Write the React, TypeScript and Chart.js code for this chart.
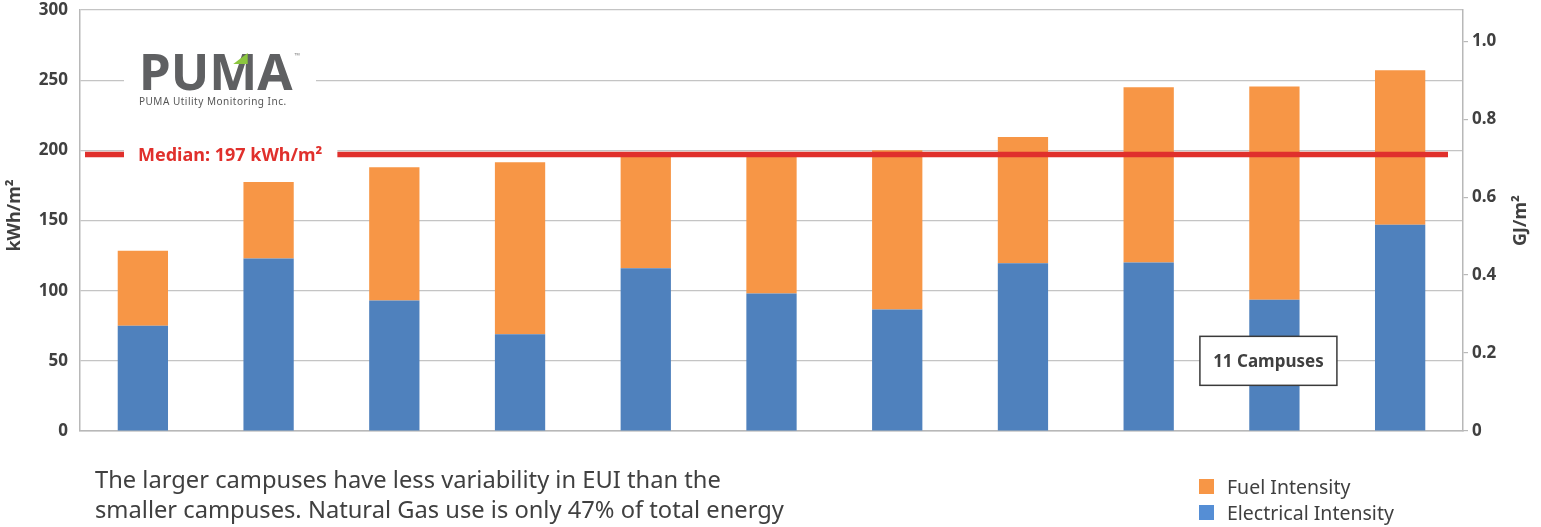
import { useEffect, useRef } from 'react';
import { Chart, registerables } from 'chart.js';

Chart.register(...registerables);

// ---------- data ----------
const CAMPUSES = ['Campus 1', 'Campus 2', 'Campus 3', 'Campus 4', 'Campus 5', 'Campus 6', 'Campus 7', 'Campus 8', 'Campus 9', 'Campus 10', 'Campus 11'];
const ELECTRICAL = [75, 123, 93, 69, 116, 98, 86.5, 119.5, 120, 93.5, 147];
const FUEL = [53.5, 54.5, 95, 122.5, 80, 98, 113.5, 90, 125, 152, 110];
const MEDIAN = 197;
const Y_MIN = 0;
const Y_MAX = 300;
const Y_STEP = 50;
const GJ_PER_KWH = 0.0036;
const GJ_STEP = 0.2;
const SERIES_NAMES = ['Electrical Intensity', 'Fuel Intensity'];
const LEGEND_ORDER = ['Fuel Intensity', 'Electrical Intensity'];
const LEFT_TITLE = 'kWh/m²';
const RIGHT_TITLE = 'GJ/m²';
const CALLOUT = '11 Campuses';
const CALLOUT_INDEX = 9;
const CALLOUT_VALUE = 50;
const NOTE_LINES = [
  'The larger campuses have less variability in EUI than the',
  'smaller campuses. Natural Gas use is only 47% of total energy',
];
const LOGO_NAME = ['PU', 'M', 'A'];
const LOGO_SUB = 'PUMA Utility Monitoring Inc.';

// ---------- styles ----------
const FONT = "'Noto Sans', 'Open Sans', sans-serif";
const BLUE = '#4f81bd';
const ORANGE = '#f79646';
const LEGEND_BLUE = '#558ed5';
const RED = '#e0302c';
const TEXT = '#404040';
const GRID = '#c4c4c4';
const AXIS = '#b8b8b8';
const LOGO_GRAY = '#5f6062';
const LOGO_GREEN = '#8cc63f';

const overlayPlugin = {
  id: 'overlayPlugin',
  afterDatasetsDraw(chart: any) {
    const { ctx, chartArea, scales } = chart;
    const ys = scales.y;
    const xs = scales.x;
    ctx.save();

    // median line
    const my = ys.getPixelForValue(MEDIAN);
    ctx.strokeStyle = RED;
    ctx.lineWidth = 5.5;
    ctx.beginPath();
    ctx.moveTo(chartArea.left + 5, my);
    ctx.lineTo(chartArea.right - 15, my);
    ctx.stroke();

    ctx.font = `bold 18px ${FONT}`;
    const label = `Median: ${MEDIAN} kWh/m²`;
    const tw = ctx.measureText(label).width;
    const lx = chartArea.left + 58;
    ctx.fillStyle = '#ffffff';
    ctx.fillRect(lx - 14, my - 12, tw + 29, 24);
    ctx.fillStyle = RED;
    ctx.textBaseline = 'middle';
    ctx.textAlign = 'left';
    ctx.fillText(label, lx, my + 1);

    // callout box
    const cx = xs.getPixelForValue(CALLOUT_INDEX) - 6;
    const cy = ys.getPixelForValue(CALLOUT_VALUE);
    const bw = 137;
    const bh = 49;
    ctx.fillStyle = '#ffffff';
    ctx.fillRect(cx - bw / 2, cy - bh / 2, bw, bh);
    ctx.strokeStyle = '#3a3a3a';
    ctx.lineWidth = 1.5;
    ctx.strokeRect(cx - bw / 2, cy - bh / 2, bw, bh);
    ctx.fillStyle = TEXT;
    ctx.font = `bold 17px ${FONT}`;
    ctx.textAlign = 'center';
    ctx.fillText(CALLOUT, cx, cy + 1);

    // logo
    const L = chartArea.left;
    ctx.fillStyle = '#ffffff';
    ctx.fillRect(L + 44, 45, 192, 68);
    ctx.textAlign = 'left';
    ctx.textBaseline = 'alphabetic';
    ctx.font = `bold 51px ${FONT}`;
    const px = L + 59;
    const base = 90;
    const capTop = base - 37;
    ctx.fillStyle = LOGO_GRAY;
    const w0 = ctx.measureText(LOGO_NAME[0]).width;
    const w1 = ctx.measureText(LOGO_NAME[1]).width;
    ctx.fillText(LOGO_NAME[0], px, base);
    ctx.fillText(LOGO_NAME[1], px + w0, base);
    ctx.fillText(LOGO_NAME[2], px + w0 + w1, base);
    const mx = px + w0;
    ctx.fillStyle = LOGO_GREEN;
    ctx.beginPath();
    ctx.moveTo(mx + w1 * 0.8, capTop);
    ctx.lineTo(mx + w1 * 0.8, capTop + 11);
    ctx.lineTo(mx + w1 * 0.5, capTop + 11);
    ctx.closePath();
    ctx.fill();
    const wAll = w0 + w1 + ctx.measureText(LOGO_NAME[2]).width;
    ctx.fillStyle = '#8a8a8a';
    ctx.font = `7px ${FONT}`;
    ctx.fillText('™', px + wAll + 2, capTop + 5);
    ctx.fillStyle = '#555555';
    ctx.font = `10px ${FONT}`;
    (ctx as any).letterSpacing = '0.5px';
    ctx.fillText(LOGO_SUB, px, 105);
    (ctx as any).letterSpacing = '0px';

    // axis titles
    ctx.fillStyle = TEXT;
    ctx.font = `bold 18px ${FONT}`;
    ctx.textAlign = 'center';
    ctx.textBaseline = 'middle';
    const midY = (chartArea.top + chartArea.bottom) / 2;
    ctx.save();
    ctx.translate(15, midY - 5);
    ctx.rotate(-Math.PI / 2);
    ctx.fillText(LEFT_TITLE, 0, 0);
    ctx.restore();
    ctx.save();
    ctx.translate(chartArea.right + 58, midY);
    ctx.rotate(-Math.PI / 2);
    ctx.fillText(RIGHT_TITLE, 0, 0);
    ctx.restore();

    ctx.restore();
  },
};

export default function App() {
  const ref = useRef<HTMLCanvasElement>(null);

  useEffect(() => {
    if (!ref.current) return;
    const tickFont = { family: FONT, size: 17, weight: 'bold' as const };
    const chart = new Chart(ref.current, {
      type: 'bar',
      data: {
        labels: CAMPUSES,
        datasets: [
          { label: SERIES_NAMES[0], data: ELECTRICAL, backgroundColor: BLUE, borderWidth: 0, barPercentage: 0.4, categoryPercentage: 1 },
          { label: SERIES_NAMES[1], data: FUEL, backgroundColor: ORANGE, borderWidth: 0, barPercentage: 0.4, categoryPercentage: 1 },
        ],
      },
      options: {
        animation: false,
        responsive: true,
        maintainAspectRatio: false,
        layout: { padding: { top: 0, left: 0, right: 0, bottom: 0 } },
        plugins: {
          legend: { display: false },
          tooltip: { enabled: false },
        },
        scales: {
          x: {
            stacked: true,
            grid: { display: false },
            border: { display: true, color: AXIS, width: 1.5 },
            ticks: { display: false },
            afterFit: (s: any) => { s.height = 96; },
          },
          y: {
            stacked: true,
            position: 'left',
            min: Y_MIN,
            max: Y_MAX,
            ticks: { stepSize: Y_STEP, padding: 12, color: TEXT, font: tickFont },
            grid: { color: GRID, lineWidth: 1.2, drawTicks: false },
            border: { color: AXIS, width: 1.5 },
            afterFit: (s: any) => { s.width = 80; s.paddingTop = 10; s.paddingBottom = 0; },
          },
          y1: {
            position: 'right',
            min: Y_MIN * GJ_PER_KWH,
            max: Y_MAX * GJ_PER_KWH,
            ticks: {
              stepSize: GJ_STEP,
              includeBounds: false,
              padding: 4,
              color: TEXT,
              font: tickFont,
              callback: (v: any) => (Number(v) === 0 ? '0' : Number(v).toFixed(1)),
            },
            grid: { drawOnChartArea: false, drawTicks: true, tickLength: 5, color: AXIS, lineWidth: 1.2 },
            border: { color: AXIS, width: 1.5 },
            afterFit: (s: any) => { s.width = 78; s.paddingTop = 10; s.paddingBottom = 0; },
          },
        },
      },
      plugins: [overlayPlugin],
    } as any);
    return () => chart.destroy();
  }, []);

  const legendColors: Record<string, string> = {
    'Fuel Intensity': ORANGE,
    'Electrical Intensity': LEGEND_BLUE,
  };

  return (
    <div style={{ position: 'absolute', left: 0, top: 0, width: 1541, height: 527, background: '#fff', fontFamily: FONT, overflow: 'hidden' }}>
      <div style={{ position: 'absolute', left: 0, top: 0, width: 1541, height: 527 }}>
        <canvas ref={ref} />
      </div>
      <div style={{ position: 'absolute', left: 95, top: 464, fontSize: 23.7, lineHeight: '30px', color: TEXT, whiteSpace: 'nowrap' }}>
        {NOTE_LINES.map((l) => (
          <div key={l}>{l}</div>
        ))}
      </div>
      <div style={{ position: 'absolute', left: 1199, top: 473, color: TEXT, fontSize: 19.5 }}>
        {LEGEND_ORDER.map((name) => (
          <div key={name} style={{ display: 'flex', alignItems: 'center', height: 26 }}>
            <span style={{ display: 'inline-block', width: 15, height: 15, background: legendColors[name], marginRight: 13 }} />
            <span style={{ whiteSpace: 'nowrap' }}>{name}</span>
          </div>
        ))}
      </div>
    </div>
  );
}
